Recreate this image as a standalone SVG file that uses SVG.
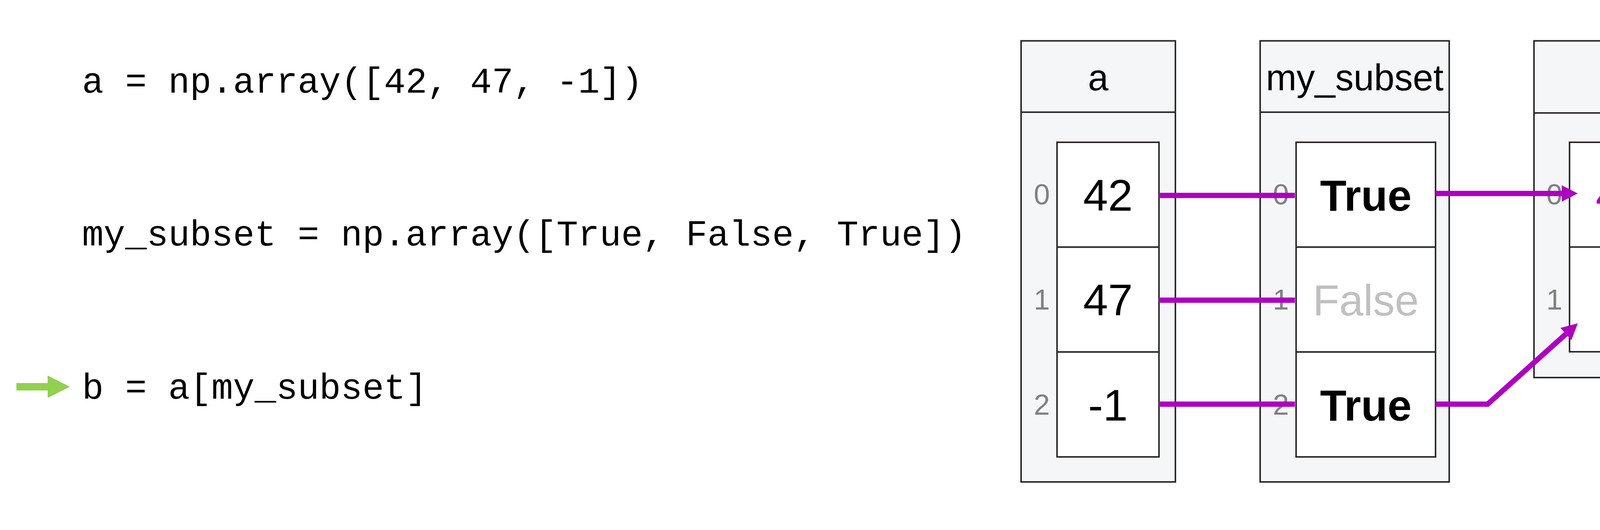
<svg xmlns="http://www.w3.org/2000/svg" width="4400" height="1356" viewBox="0 0 4400 1356">
  <style>
    .code { font-family: "Liberation Mono", "Courier New", monospace; font-size: 92px; fill: #000; }
    .outer { fill: #f5f6f8; stroke: #2b2b2b; stroke-width: 4; }
    .cell { fill: #ffffff; stroke: #2b2b2b; stroke-width: 4; }
    .div { stroke: #2b2b2b; stroke-width: 4; fill: none; }
    .hdr { font-family: "Liberation Sans", Arial, sans-serif; font-size: 94px; text-anchor: middle; fill: #000; }
    .val { font-family: "Liberation Sans", Arial, sans-serif; font-size: 114px; text-anchor: middle; fill: #000; }
    .bool { font-family: "Liberation Sans", Arial, sans-serif; font-size: 111px; text-anchor: middle; fill: #000; font-weight: bold; }
    .false { font-family: "Liberation Sans", Arial, sans-serif; font-size: 111px; text-anchor: middle; fill: #c0c0c0; }
    .idx { font-family: "Liberation Sans", Arial, sans-serif; font-size: 74px; text-anchor: middle; fill: #808080; }
    .mag { fill: #ad00c0; }
    .conn { fill: none; stroke: #ad00c0; stroke-width: 13.5; stroke-linejoin: miter; }
  </style>
  <defs>
    <marker id="ah" markerUnits="userSpaceOnUse" markerWidth="42" markerHeight="42" viewBox="0 0 41 42" refX="0" refY="21" orient="auto" overflow="visible">
      <path d="M0,0 L41,21 L0,42 Z" fill="#ad00c0"/>
    </marker>
  </defs>
  <rect width="4400" height="1356" fill="#ffffff"/>

  <g id="code">
    <text class="code" x="210" y="237" xml:space="preserve">a = np.array([42, 47, -1])</text>
    <text class="code" x="210" y="628" xml:space="preserve">my_subset = np.array([True, False, True])</text>
    <text class="code" x="210" y="1020" xml:space="preserve">b = a[my_subset]</text>
    <polygon id="current-line-arrow" points="42,980 122,980 122,961 179,989.5 122,1018 122,999 42,999" fill="#92d050"/>
  </g>

  <g id="node-a">
    <rect class="outer" x="2614" y="104.5" width="395" height="1128.5"/>
    <line class="div" x1="2614" y1="287" x2="3009" y2="287"/>
    <text class="hdr" x="2811.5" y="231">a</text>
    <rect class="cell" x="2706" y="364" width="261" height="268.3"/>
    <rect class="cell" x="2706" y="632.3" width="261" height="268.3"/>
    <rect class="cell" x="2706" y="900.6" width="261" height="268.4"/>
    <text class="val" x="2836.5" y="539">42</text>
    <text class="val" x="2836.5" y="807">47</text>
    <text class="val" x="2836.5" y="1076">-1</text>
    <text class="idx" x="2667" y="523">0</text>
    <text class="idx" x="2667" y="792">1</text>
    <text class="idx" x="2667" y="1061">2</text>
  </g>

  <g id="node-my_subset">
    <rect class="outer" x="3226" y="104.5" width="484" height="1128.5"/>
    <line class="div" x1="3226" y1="287" x2="3710" y2="287"/>
    <text class="hdr" x="3468" y="231">my_subset</text>
    <rect class="cell" x="3318" y="364" width="357" height="268.3"/>
    <rect class="cell" x="3318" y="632.3" width="357" height="268.3"/>
    <rect class="cell" x="3318" y="900.6" width="357" height="268.4"/>
    <text class="bool" x="3496.5" y="539">True</text>
    <text class="false" x="3496.5" y="807">False</text>
    <text class="bool" x="3496.5" y="1076">True</text>
    <text class="idx" x="3279" y="523">0</text>
    <text class="idx" x="3279" y="792">1</text>
    <text class="idx" x="3279" y="1061">2</text>
  </g>

  <g id="node-b">
    <rect class="outer" x="3927" y="104.5" width="393.5" height="861.5"/>
    <line class="div" x1="3927" y1="289" x2="4320.5" y2="289"/>
    <text class="hdr mag" x="4123.75" y="231">b</text>
    <rect class="cell" x="4018" y="364" width="260.6" height="268"/>
    <rect class="cell" x="4018" y="632" width="260.6" height="268"/>
    <text class="val mag" x="4148.3" y="539">42</text>
    <text class="val mag" x="4148.3" y="807">-1</text>
    <text class="idx" x="3979" y="523">0</text>
    <text class="idx" x="3979" y="792">1</text>
  </g>

  <g id="connectors">
    <line class="conn" x1="2967" y1="500" x2="3315" y2="500"/>
    <line class="conn" x1="2967" y1="768" x2="3315" y2="768"/>
    <line class="conn" x1="2967" y1="1034" x2="3315" y2="1034"/>
    <path class="conn" d="M3675,495 L3998,495" marker-end="url(#ah)"/>
    <path class="conn" d="M3675,1034 L3808.5,1034 L4008.7,854.6" marker-end="url(#ah)"/>
  </g>
</svg>
